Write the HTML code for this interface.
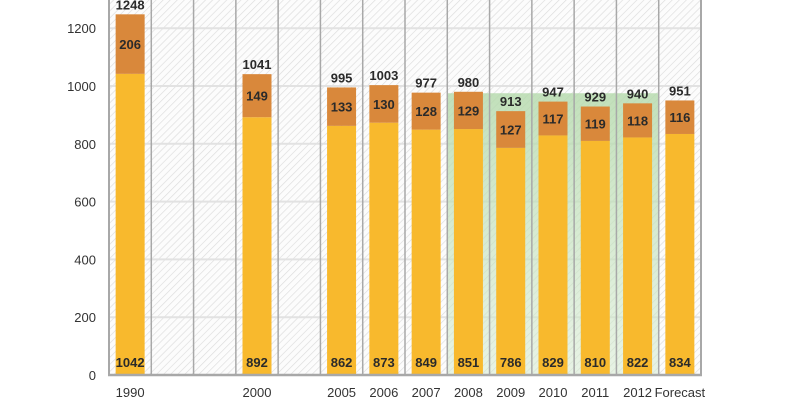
<!DOCTYPE html>
<html><head><meta charset="utf-8"><style>
html,body{margin:0;padding:0;background:#fff;width:800px;height:400px;overflow:hidden}
svg text{font-family:"Liberation Sans",sans-serif}
</style></head><body>
<svg id="chart" width="800" height="400" viewBox="0 0 800 400" xmlns="http://www.w3.org/2000/svg">
<defs>
<pattern id="hatch" patternUnits="userSpaceOnUse" width="5" height="5" patternTransform="rotate(45)">
<rect width="5" height="5" fill="#fcfcfc"/><line x1="0" y1="0" x2="0" y2="5" stroke="#dcdcdc" stroke-width="1.3"/>
</pattern>
<linearGradient id="greenGrad" x1="0" y1="0" x2="0" y2="1">
<stop offset="0" stop-color="#b3d9aa" stop-opacity="0.8"/><stop offset="1" stop-color="#d3eacd" stop-opacity="0.5"/>
</linearGradient>
</defs>
<g id="plot"></g>
</svg>
<script>
const categories=["1990","","","2000","","2005","2006","2007","2008","2009","2010","2011","2012","Forecast"];
const baseValues=[1042,null,null,892,null,862,873,849,851,786,829,810,822,834];
const topValues=[206,null,null,149,null,133,130,128,129,127,117,119,118,116];
const totalValues=[1248,null,null,1041,null,995,1003,977,980,913,947,929,940,951];
const yTicks=[0,200,400,600,800,1000,1200];
const bandStart=8, bandEnd=12, bandValue=975;

const NS="http://www.w3.org/2000/svg";
const L=109,R=701,B=375,T=0,slotW=(R-L)/categories.length,barW=29;
const y=v=>B-v*0.289;
const xs=i=>L+i*slotW;
const g=document.getElementById('plot');
function mk(tag,attrs,txt){const e=document.createElementNS(NS,tag);for(const k in attrs)e.setAttribute(k,attrs[k]);if(txt!==undefined)e.textContent=txt;g.appendChild(e);return e;}

let e=mk('rect',{x:L,y:T,width:R-L,height:B-T,fill:'url(#hatch)'});



yTicks.forEach(t=>{
 if(t>0){const l=mk('line',{x1:L,x2:R,y1:y(t),y2:y(t),stroke:'#e2e2e2','stroke-width':2});
 
 }
 const tx=mk('text',{x:96,y:y(t)+5,'text-anchor':'end','font-size':13,fill:'#333'},String(t));
 
 
});

e=mk('rect',{x:xs(bandStart),y:y(bandValue),width:xs(bandEnd+1)-xs(bandStart),height:B-y(bandValue),fill:'url(#greenGrad)'});



for(let i=1;i<categories.length;i++){
 const l=mk('line',{x1:xs(i),x2:xs(i),y1:T,y2:B,stroke:'#a8a8a8','stroke-width':1.5});
 
 
}
[L,R].forEach(xx=>{const l=mk('line',{x1:xx,x2:xx,y1:T,y2:B,stroke:'#a8a8a8','stroke-width':2});
 
 });

categories.forEach((c,i)=>{
 const cx=xs(i)+slotW/2;
 if(c){const t=mk('text',{x:cx,y:397,'text-anchor':'middle','font-size':13,fill:'#333'},c);
 
 }
 if(baseValues[i]==null)return;
 const b=baseValues[i],tp=topValues[i],tot=totalValues[i];
 let r=mk('rect',{x:cx-barW/2,y:y(b),width:barW,height:B-y(b),fill:'#f8b92d'});
 
 
 r=mk('rect',{x:cx-barW/2,y:y(b+tp),width:barW,height:y(b)-y(b+tp),fill:'#d9883b'});
 
 
 let t=mk('text',{x:cx,y:367,'text-anchor':'middle','font-size':13,'font-weight':'bold',fill:'#2a2a2a'},String(b));
 
 
 t=mk('text',{x:cx,y:(y(b)+y(b+tp))/2+5,'text-anchor':'middle','font-size':13,'font-weight':'bold',fill:'#2a2a2a'},String(tp));
 
 
 t=mk('text',{x:cx,y:y(b+tp)-5,'text-anchor':'middle','font-size':13,'font-weight':'bold',fill:'#2a2a2a'},String(tot));
 
 
});
const ax=mk('line',{x1:L-1,x2:R+1,y1:B,y2:B,stroke:'#a8a8a8','stroke-width':2.5});


</script>
</body></html>
